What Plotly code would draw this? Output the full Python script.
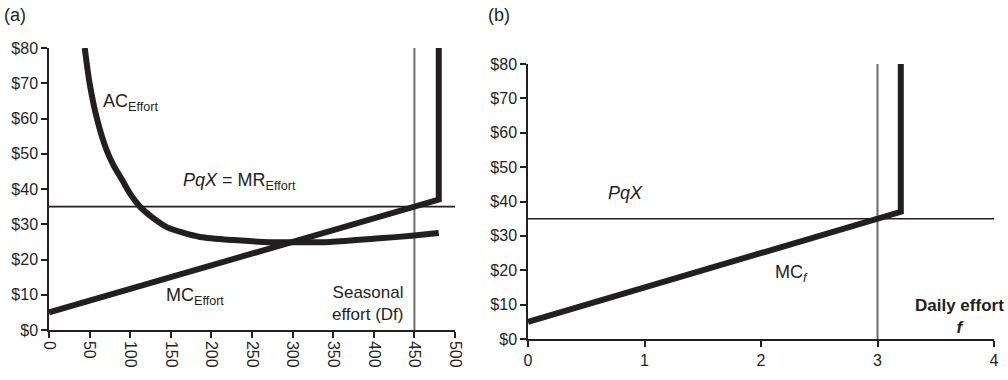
import plotly.graph_objects as go

# ---- panel (a): seasonal effort ----
effort_ticks = [0, 50, 100, 150, 200, 250, 300, 350, 400, 450, 500]
price_ticks = [0, 10, 20, 30, 40, 50, 60, 70, 80]
price_labels = ["$0", "$10", "$20", "$30", "$40", "$50", "$60", "$70", "$80"]

ac_effort_x = [44, 50, 59, 71, 80, 90, 100, 112, 128, 145, 165, 186, 227, 264, 300, 346, 407, 450, 480]
ac_effort_y = [80, 70, 60, 51, 46.5, 42.6, 38.6, 35, 31.8, 29.2, 27.6, 26.4, 25.5, 25.0, 24.9, 25.0, 26.0, 26.8, 27.5]

mc_effort_x = [0, 480, 480]
mc_effort_y = [5, 37, 80]

pqx_price = 35
seasonal_limit = 450
effort_max = 500

# ---- panel (b): daily effort ----
daily_ticks = [0, 1, 2, 3, 4]
mc_daily_x = [0, 3.2, 3.2]
mc_daily_y = [5, 37, 80]
daily_limit = 3
daily_max = 4.05

INK = "#231f20"
GRAY = "#6b6b6b"
FONT = "Liberation Sans, Arial, sans-serif"

W, H = 1008, 380


def px_x(p):
    return p / W


def px_y(p):
    return 1 - p / H


fig = go.Figure()

# panel (a) traces
fig.add_trace(go.Scatter(x=[0, effort_max], y=[pqx_price, pqx_price], mode="lines",
                         line=dict(color=INK, width=1.6), xaxis="x", yaxis="y", hoverinfo="skip"))
fig.add_trace(go.Scatter(x=[seasonal_limit, seasonal_limit], y=[0, 80], mode="lines",
                         line=dict(color=GRAY, width=2), xaxis="x", yaxis="y", hoverinfo="skip"))
fig.add_trace(go.Scatter(x=ac_effort_x, y=ac_effort_y, mode="lines", line_shape="spline",
                         line=dict(color=INK, width=6, smoothing=0.8), xaxis="x", yaxis="y"))
fig.add_trace(go.Scatter(x=mc_effort_x, y=mc_effort_y, mode="lines",
                         line=dict(color=INK, width=6), xaxis="x", yaxis="y"))

# panel (b) traces
fig.add_trace(go.Scatter(x=[0, daily_max], y=[pqx_price, pqx_price], mode="lines",
                         line=dict(color=INK, width=1.6), xaxis="x2", yaxis="y2", hoverinfo="skip"))
fig.add_trace(go.Scatter(x=[daily_limit, daily_limit], y=[0, 80], mode="lines",
                         line=dict(color=GRAY, width=2), xaxis="x2", yaxis="y2", hoverinfo="skip"))
fig.add_trace(go.Scatter(x=mc_daily_x, y=mc_daily_y, mode="lines",
                         line=dict(color=INK, width=6), xaxis="x2", yaxis="y2"))

axis_common = dict(showgrid=False, zeroline=False, showline=True, linecolor=INK, linewidth=1.5,
                   ticks="outside", tickcolor=INK, tickwidth=1.5, ticklen=6, automargin=False,
                   tickfont=dict(family=FONT, size=16, color=INK))

fig.update_layout(
    width=W, height=H, autosize=False, margin=dict(l=0, r=0, t=0, b=0, pad=0),
    paper_bgcolor="white", plot_bgcolor="white", showlegend=False,
    font=dict(family=FONT, color=INK),
    xaxis=dict(domain=[px_x(49), px_x(455)], range=[0, effort_max], tickvals=effort_ticks,
               tickangle=90, anchor="y", **axis_common),
    yaxis=dict(domain=[px_y(330), px_y(48)], range=[0, 80], tickvals=price_ticks,
               ticktext=price_labels, anchor="x", **axis_common),
    xaxis2=dict(domain=[px_x(528), px_x(994)], range=[0, 4], tickvals=daily_ticks,
                anchor="y2", **axis_common),
    yaxis2=dict(domain=[px_y(339), px_y(64)], range=[0, 80], tickvals=price_ticks,
                ticktext=price_labels, anchor="x2", **axis_common),
)

LABEL = dict(family=FONT, size=18, color=INK)

annotations = [
    dict(text="(a)", xref="paper", yref="paper", x=px_x(2), y=px_y(15), xanchor="left",
         yanchor="middle", font=LABEL),
    dict(text="(b)", xref="paper", yref="paper", x=px_x(486), y=px_y(15), xanchor="left",
         yanchor="middle", font=LABEL),
    dict(text="AC<sub>Effort</sub>", xref="x", yref="y", x=64, y=64.5, xanchor="left",
         yanchor="middle", font=LABEL),
    dict(text="<i>PqX</i> = MR<sub>Effort</sub>", xref="x", yref="y", x=162, y=42,
         xanchor="left", yanchor="middle", font=LABEL),
    dict(text="MC<sub>Effort</sub>", xref="x", yref="y", x=142, y=9.5, xanchor="left",
         yanchor="middle", font=LABEL),
    dict(text="Seasonal<br>effort (Df)", xref="x", yref="y", x=439, y=7.4, xanchor="right",
         yanchor="middle", align="right", font=dict(family=FONT, size=17, color=INK)),
    dict(text="<i>PqX</i>", xref="x2", yref="y2", x=0.67, y=42.5, xanchor="left",
         yanchor="middle", font=LABEL),
    dict(text="MC<sub><i>f</i></sub>", xref="x2", yref="y2", x=2.1, y=19, xanchor="left",
         yanchor="middle", font=LABEL),
    dict(text="<b>Daily effort</b><br><b><i>f</i></b>", xref="paper", yref="paper",
         x=px_x(1006), y=px_y(316), xanchor="right", yanchor="middle", align="center",
         font=dict(family=FONT, size=17, color=INK)),
]
for a in annotations:
    a["showarrow"] = False
fig.update_layout(annotations=annotations)

# page without the browser's default body margin, so the 1008x380 figure fills the window
page_css = (
    "document.documentElement.style.margin='0';"
    "document.documentElement.style.padding='0';"
    "document.documentElement.style.overflow='hidden';"
    "document.body.style.margin='0';"
    "document.body.style.padding='0';"
    "document.body.style.overflow='hidden';"
)
fig.write_html("out.html", post_script=page_css)
